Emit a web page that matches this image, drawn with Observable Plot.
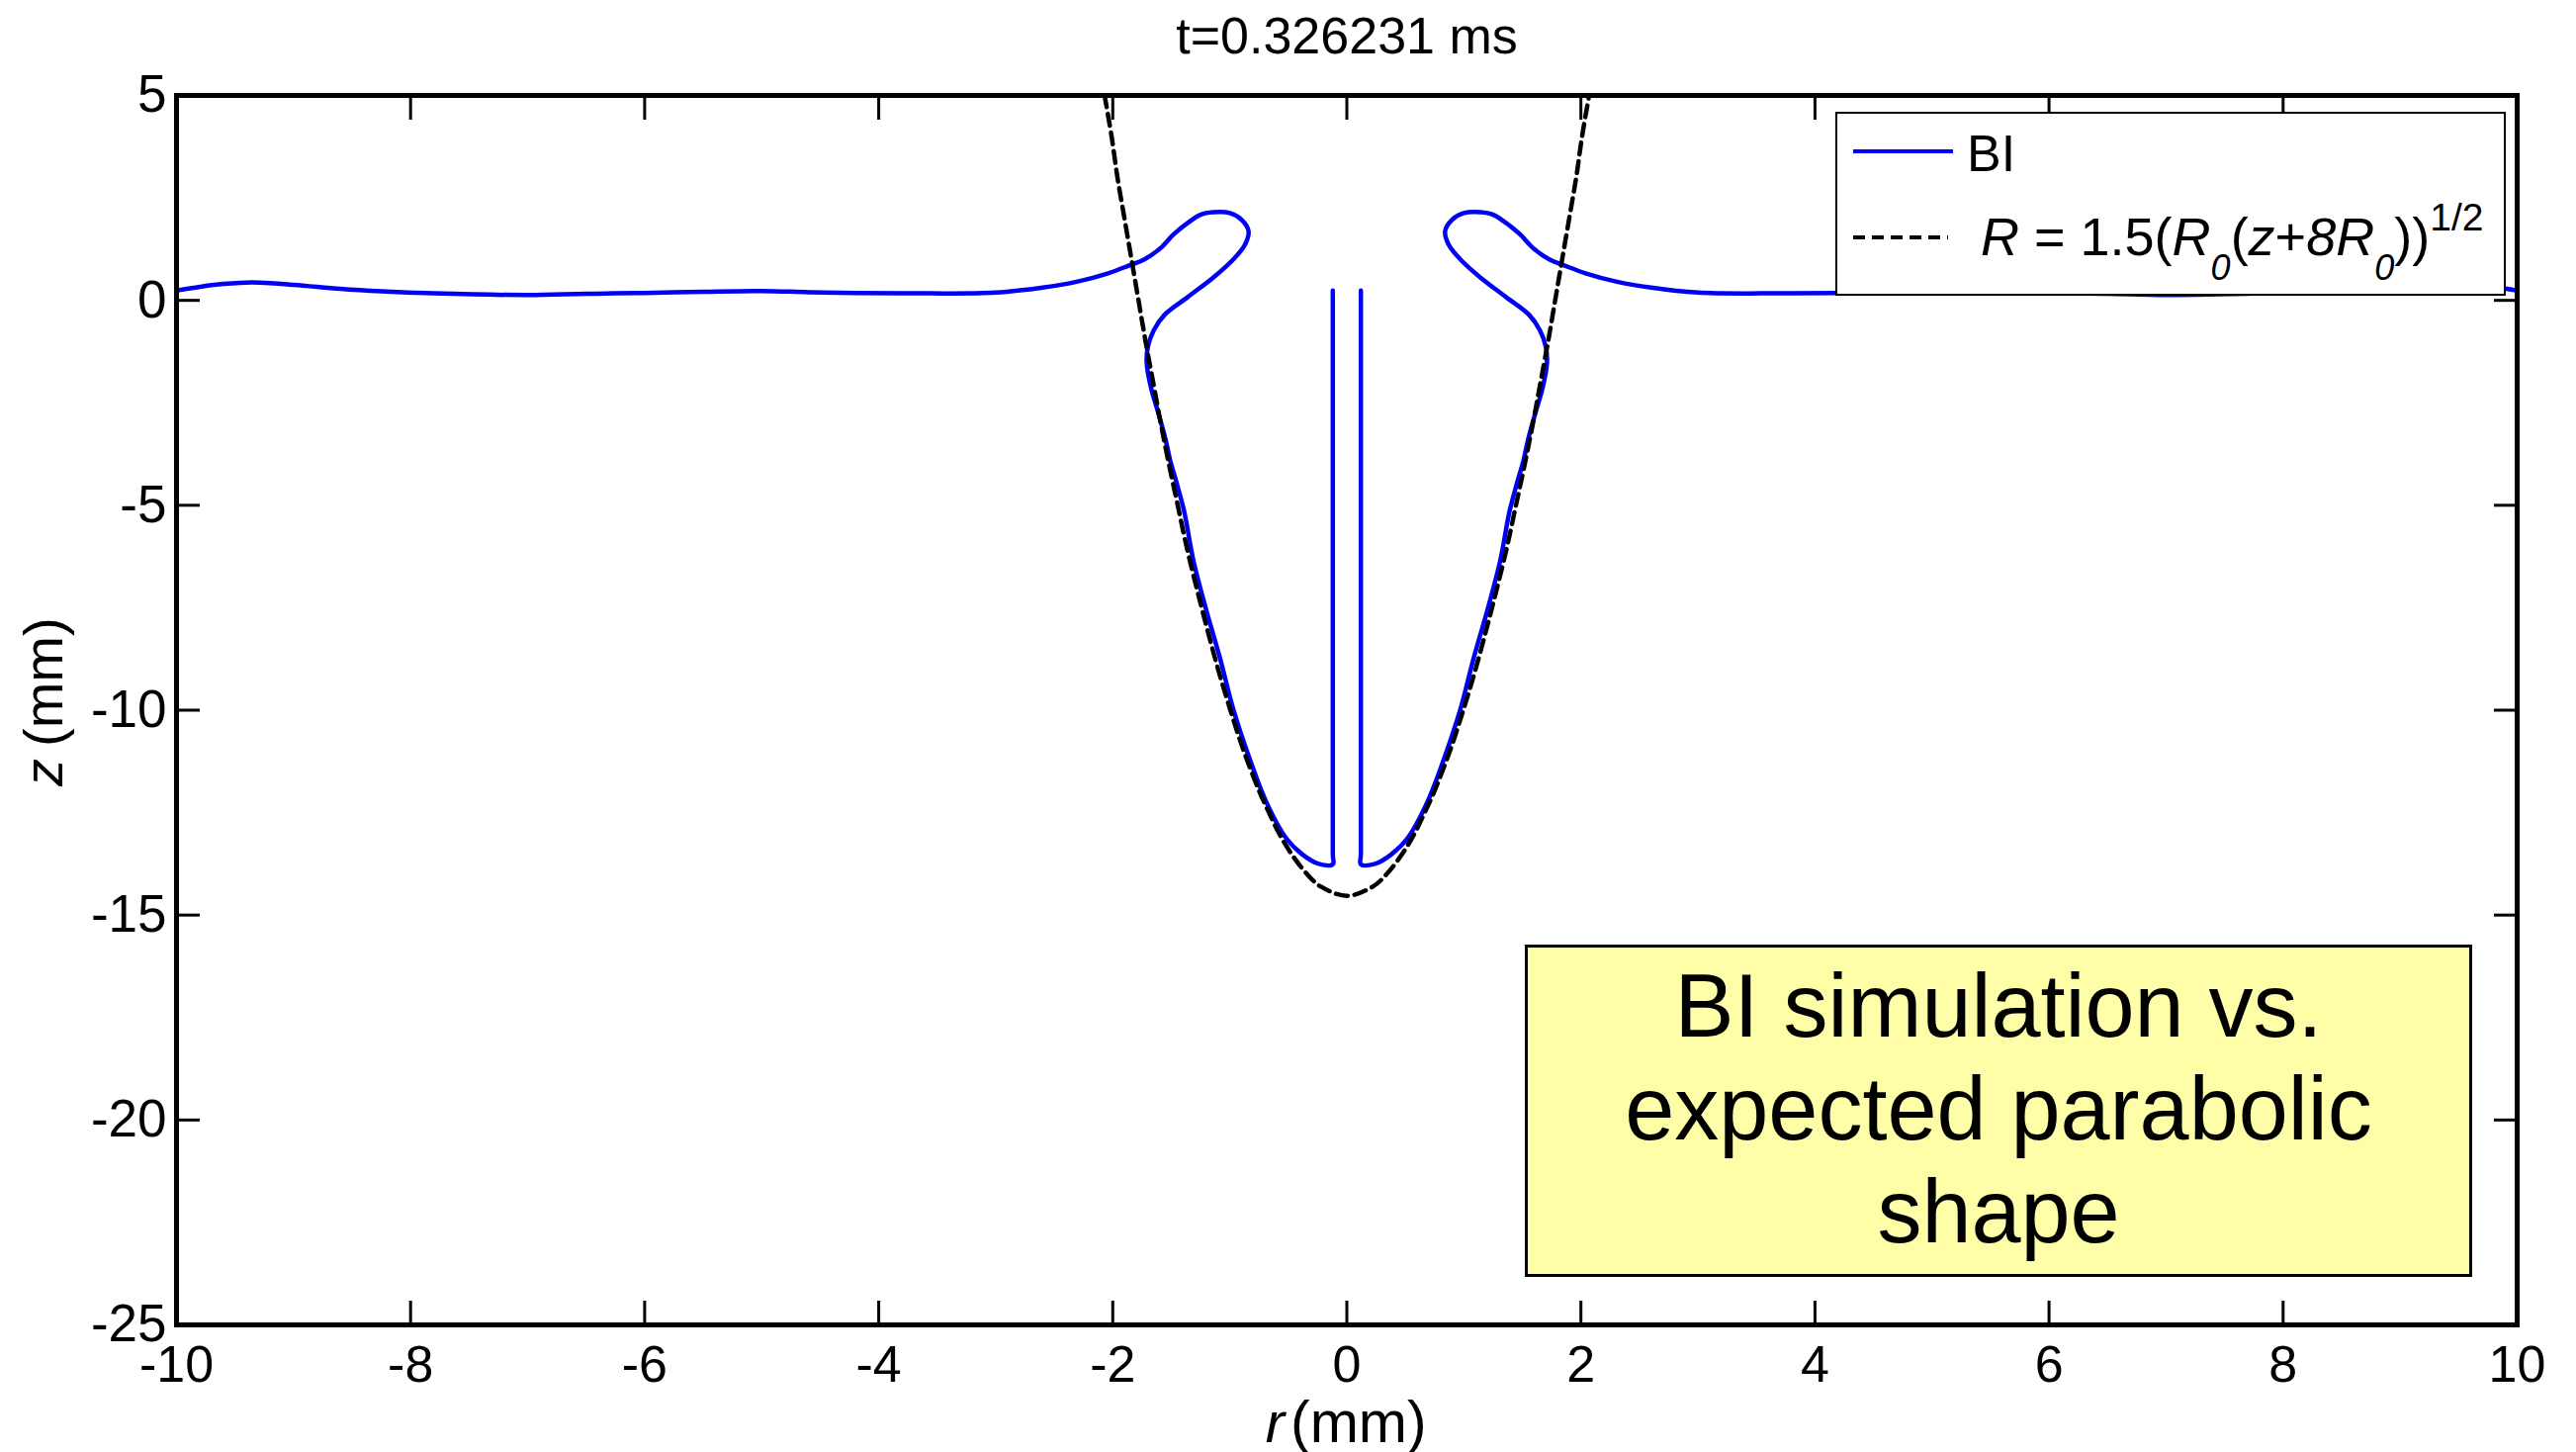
<!DOCTYPE html>
<html>
<head>
<meta charset="utf-8">
<script src="https://cdn.jsdelivr.net/npm/d3@7"></script>
<script src="https://cdn.jsdelivr.net/npm/@observablehq/plot@0.6"></script>
<style>
  html, body { margin: 0; padding: 0; background: #fff; }
  #wrap { position: relative; width: 2605px; height: 1468px; font-family: "Liberation Sans", Arial, sans-serif; color: #000; }
  #legend { position: absolute; left: 1856px; top: 113px; width: 674px; height: 182px; border: 2px solid #000; background: #fff; }
  #legend .t { position: absolute; white-space: nowrap; }
  #note { position: absolute; left: 1542px; top: 955px; width: 952px; border: 3px solid #000; background: #fefda8;
          font-size: 90px; line-height: 104px; text-align: center; padding-top: 7px; box-sizing: content-box; height: 323px; }
</style>
</head>
<body>
<div id="wrap">
  <div id="chart"></div>
  <div id="legend">
    <div style="position:absolute;left:16px;top:36px;width:101px;height:4px;background:#0000f5"></div>
    <div class="t" style="left:131px;top:14px;font-size:52px;line-height:52px">BI</div>
    <svg style="position:absolute;left:16px;top:121px" width="100" height="8"><line x1="0" y1="4" x2="96" y2="4" stroke="#000" stroke-width="4" stroke-dasharray="12,7"/></svg>
    <div class="t" style="left:145px;top:97px;font-size:54px;line-height:54px"><i>R</i> = 1.5(<i>R</i><span style="font-size:36px;position:relative;top:25px"><i>0</i></span>(<i>z</i>+<i>8R</i><span style="font-size:36px;position:relative;top:25px"><i>0</i></span>))<span style="font-size:39px;position:relative;top:-25px">1/2</span></div>
  </div>
  <div id="note">BI simulation vs.<br>expected parabolic<br>shape</div>
</div>
<script>
// Tick values
const xTicks = [-10, -8, -6, -4, -2, 0, 2, 4, 6, 8, 10];
const yTicks = [-25, -20, -15, -10, -5, 0, 5];

// BI interface, left half (r, z in mm), ordered along the curve
const biLeftR = [-10.0, -9.8, -9.6, -9.35, -9.0, -8.6, -8.25, -7.8, -7.0, -6.5, -6.0, -5.5, -5.0, -4.6, -4.2, -3.6, -3.0, -2.6, -2.3, -2.04, -1.87, -1.73, -1.59, -1.48, -1.36, -1.25, -1.14, -1.00, -0.90, -0.84, -0.87, -0.97, -1.14, -1.36, -1.56, -1.65, -1.70, -1.71, -1.67, -1.62, -1.55, -1.51, -1.45, -1.39, -1.31, -1.20, -1.08, -0.97, -0.83, -0.69, -0.52, -0.38, -0.24, -0.12, -0.12, -0.12];
const biLeftZ = [0.24, 0.33, 0.40, 0.44, 0.38, 0.28, 0.22, 0.17, 0.13, 0.16, 0.18, 0.21, 0.23, 0.20, 0.18, 0.17, 0.19, 0.31, 0.46, 0.66, 0.84, 1.00, 1.28, 1.61, 1.89, 2.09, 2.15, 2.13, 1.97, 1.69, 1.36, 1.00, 0.56, 0.08, -0.36, -0.73, -1.13, -1.53, -2.17, -2.66, -3.38, -3.90, -4.50, -5.15, -6.36, -7.57, -8.77, -9.98, -11.19, -12.23, -13.12, -13.52, -13.75, -13.76, -13.5, 0.24];

// Expected parabola R = 1.5(R0(z+8R0))^1/2, right half (z from top to vertex)
const parabZ = [5, 4, 3, 2, 1, 0, -1, -2, -3, -4, -5, -6, -7, -8, -9, -10, -11, -12, -12.5, -13, -13.5, -14, -14.3, -14.53];
const parabR = [2.07, 2.01, 1.96, 1.90, 1.84, 1.78, 1.72, 1.655, 1.59, 1.52, 1.445, 1.37, 1.285, 1.195, 1.10, 0.995, 0.88, 0.745, 0.665, 0.58, 0.475, 0.34, 0.225, 0.0];

const bi = [];
biLeftR.forEach((r, i) => bi.push({side: "left", r, z: biLeftZ[i]}));
biLeftR.forEach((r, i) => bi.push({side: "right", r: -r, z: biLeftZ[i]}));

const parab = [];
for (let i = 0; i < parabZ.length; i++) parab.push({r: -parabR[i], z: parabZ[i]});
for (let i = parabZ.length - 2; i >= 0; i--) parab.push({r: parabR[i], z: parabZ[i]});

const fmt = d => String(d);

const chart = Plot.plot({
  width: 2605,
  height: 1468,
  marginLeft: 178,
  marginRight: 60,
  marginTop: 96,
  marginBottom: 129,
  x: {domain: [-10, 10]},
  y: {domain: [-25, 5]},
  style: {fontFamily: "'Liberation Sans', Arial, sans-serif", background: "#fff", color: "#000", overflow: "visible"},
  marks: [
    Plot.line(bi, {x: "r", y: "z", z: "side", stroke: "#0000f5", strokeWidth: 4.5, curve: "catmull-rom", clip: true}),
    Plot.line(parab, {x: "r", y: "z", stroke: "#000", strokeWidth: 4.5, strokeDasharray: "12,7", curve: "catmull-rom", clip: true}),
    Plot.frame({stroke: "#000", strokeWidth: 5}),
    Plot.axisX(xTicks, {anchor: "bottom", tickSize: -24, tickPadding: 45, tickFormat: fmt, fontSize: 52, strokeWidth: 3, label: null}),
    Plot.axisX(xTicks, {anchor: "top", tickSize: -24, tickFormat: () => "", strokeWidth: 3, label: null}),
    Plot.axisY(yTicks, {anchor: "left", tickSize: -24, tickPadding: 34, tickFormat: fmt, fontSize: 53, strokeWidth: 3, label: null}),
    Plot.axisY(yTicks, {anchor: "right", tickSize: -24, tickFormat: () => "", strokeWidth: 3, label: null}),
    Plot.text(["t=0.326231 ms"], {frameAnchor: "top", dy: -43, lineAnchor: "bottom", fontSize: 52}),
    Plot.text(["r"], {frameAnchor: "bottom", dx: -63, dy: 118, lineAnchor: "bottom", textAnchor: "end", fontSize: 58, fontStyle: "italic"}),
    Plot.text(["(mm)"], {frameAnchor: "bottom", dx: -57, dy: 118, lineAnchor: "bottom", textAnchor: "start", fontSize: 59}),
    Plot.text(["z"], {frameAnchor: "left", dx: -116, dy: 77, rotate: -90, lineAnchor: "bottom", textAnchor: "start", fontSize: 56, fontStyle: "italic"}),
    Plot.text(["(mm)"], {frameAnchor: "left", dx: -116, dy: 37, rotate: -90, lineAnchor: "bottom", textAnchor: "start", fontSize: 56})
  ]
});
document.getElementById("chart").appendChild(chart);
</script>
</body>
</html>
